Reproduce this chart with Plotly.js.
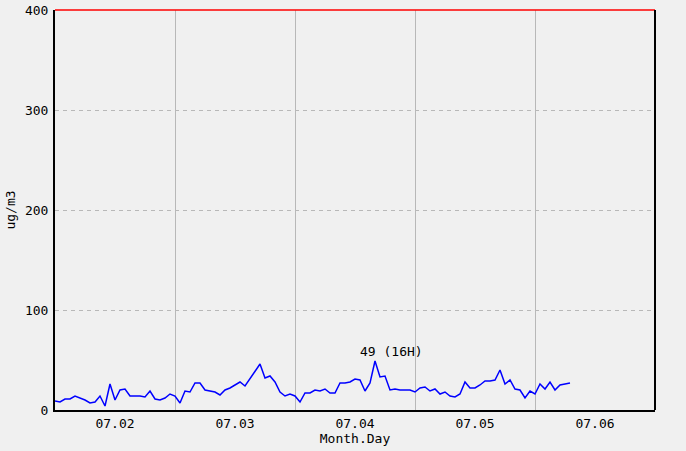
<!DOCTYPE html>
<html>
<head>
<meta charset="utf-8">
<script src="https://cdn.plot.ly/plotly-3.0.1.min.js"></script>
<style>html,body{margin:0;padding:0;background:#f0f0f0;}#chart{width:686px;height:451px;}</style>
</head>
<body>
<div id="chart"></div>
<script>
// hourly values, hour 0 = 07.02 00:00
const day1 = [9, 8, 11, 11, 14, 12, 10, 7, 8, 14, 4, 26, 10, 20, 21, 14, 14, 14, 13, 19, 11, 10, 12, 16];
const day2 = [14, 7, 19, 18, 27, 27, 20, 19, 18, 15, 20, 22, 25, 28, 24, 31, 38, 46, 32, 34, 28, 18, 14, 16];
const day3 = [14, 8, 17, 17, 20, 19, 21, 17, 17, 27, 27, 28, 31, 30, 19, 27, 49, 33, 34, 20, 21, 20, 20, 20];
const day4 = [18, 22, 23, 19, 21, 16, 18, 14, 13, 16, 28, 22, 22, 25, 29, 29, 30, 40, 26, 30, 21, 20, 12, 19];
const day5 = [16, 26, 21, 28, 20, 25, 26, 27];
const tickLabels = ["07.02", "07.03", "07.04", "07.05", "07.06"];
const tickHours = [12, 36, 60, 84, 108];
const dayBoundaries = [24, 48, 72, 96];

const values = [].concat(day1, day2, day3, day4, day5);
const hours = values.map((v, i) => i);

let maxI = 0;
values.forEach((v, i) => { if (v > values[maxI]) maxI = i; });

const font = {family: "DejaVu Sans Mono, monospace", size: 13, color: "#000"};

const trace = {
  x: hours, y: values, type: "scatter", mode: "lines",
  line: {color: "#0000ff", width: 1.5}, hoverinfo: "none"
};

const layout = {
  width: 686, height: 451,
  margin: {l: 55, r: 31, t: 10, b: 41},
  paper_bgcolor: "#f0f0f0", plot_bgcolor: "#f0f0f0",
  font: font,
  showlegend: false,
  xaxis: {
    range: [0, 120], tickmode: "array", tickvals: tickHours, ticktext: tickLabels,
    showgrid: false, zeroline: false, showline: true, linecolor: "#000", linewidth: 2,
    ticks: "", tickfont: font,
    minor: {tickmode: "array", tickvals: dayBoundaries, showgrid: true, gridcolor: "#b8b8b8", gridwidth: 1, ticks: ""},
    title: {text: "Month.Day", font: font, standoff: 3}
  },
  yaxis: {
    range: [0, 400], dtick: 100, showgrid: true, gridcolor: "#b8b8b8", griddash: "4px,4px", gridwidth: 1,
    zeroline: false, showline: true, linecolor: "#000", linewidth: 2, ticks: "",
    tickfont: font, ticklabelstandoff: 2,
    title: {text: "ug/m3", font: font, standoff: 6}
  },
  shapes: [
    {type: "line", xref: "paper", yref: "paper", x0: 0, x1: 1, y0: 1, y1: 1, line: {color: "#ff0000", width: 1.5}},
    {type: "line", xref: "paper", yref: "paper", x0: 1, x1: 1, y0: 0, y1: 1, line: {color: "#000", width: 2}}
  ],
  annotations: [{
    x: hours[maxI], y: values[maxI], xref: "x", yref: "y",
    text: values[maxI] + " (" + (hours[maxI] % 24) + "H)",
    showarrow: false, xanchor: "left", yanchor: "bottom", xshift: -17, yshift: 0,
    font: font
  }]
};

Plotly.newPlot("chart", [trace], layout, {displayModeBar: false, staticPlot: true});
</script>
</body>
</html>
